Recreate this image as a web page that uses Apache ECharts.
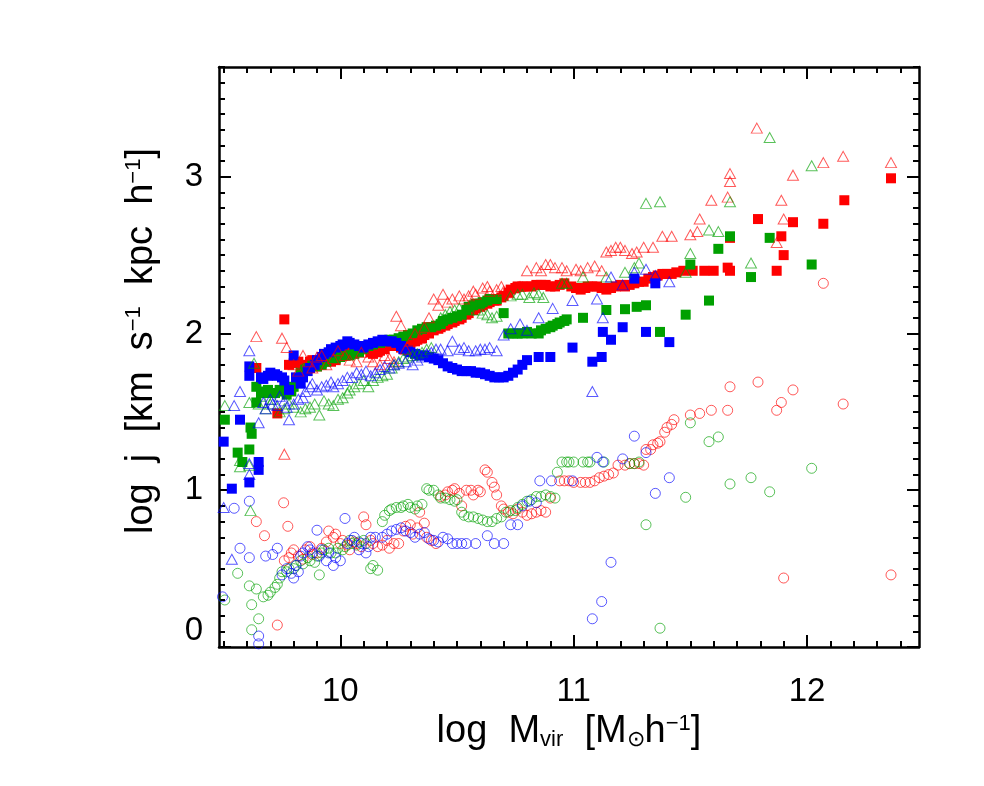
<!DOCTYPE html>
<html>
<head>
<meta charset="utf-8">
<script src="https://cdn.jsdelivr.net/npm/echarts@6/dist/echarts.min.js"></script>
<style>
  html, body { margin: 0; padding: 0; background: #fff; }
  #main { width: 984px; height: 786px; }
</style>
</head>
<body>
<div id="main"></div>
<script>
// tick labels
var xMajor = [10, 11, 12]
var yMajor = [0, 1, 2, 3]

// filled squares
var redSquares = [
  [9.64, 1.78], [9.73, 1.49], [9.76, 2.09], [9.78, 1.80], [9.80, 1.81], [9.82, 1.82], [9.84, 1.78],
  [9.85, 1.80], [9.87, 1.82], [9.88, 1.83], [9.90, 1.79], [9.92, 1.81], [9.93, 1.84], [9.95, 1.84],
  [9.96, 1.82], [9.98, 1.83], [9.99, 1.85], [10.01, 1.86], [10.02, 1.88], [10.04, 1.89], [10.05, 1.90],
  [10.07, 1.91], [10.08, 1.92], [10.10, 1.91], [10.11, 1.90], [10.13, 1.88], [10.14, 1.87], [10.16, 1.88],
  [10.17, 1.89], [10.19, 1.90], [10.20, 1.92], [10.22, 1.92], [10.23, 1.93], [10.25, 1.92], [10.26, 1.91],
  [10.28, 1.93], [10.30, 1.94], [10.32, 1.95], [10.33, 1.96], [10.35, 1.97], [10.36, 1.99], [10.38, 2.00],
  [10.40, 2.02], [10.42, 2.03], [10.43, 2.04], [10.45, 2.05], [10.46, 2.06], [10.48, 2.07], [10.49, 2.08],
  [10.51, 2.09], [10.52, 2.10], [10.54, 2.12], [10.55, 2.13], [10.57, 2.15], [10.58, 2.16], [10.60, 2.17],
  [10.61, 2.18], [10.63, 2.19], [10.64, 2.20], [10.66, 2.21], [10.67, 2.21], [10.69, 2.23], [10.70, 2.24],
  [10.72, 2.26], [10.73, 2.28], [10.75, 2.29], [10.76, 2.30], [10.78, 2.30], [10.80, 2.30], [10.82, 2.30],
  [10.84, 2.31], [10.86, 2.31], [10.88, 2.31], [10.90, 2.30], [10.92, 2.30], [10.94, 2.31], [10.96, 2.32],
  [10.99, 2.30], [11.01, 2.29], [11.03, 2.28], [11.05, 2.29], [11.06, 2.30], [11.08, 2.30], [11.10, 2.30],
  [11.12, 2.29], [11.14, 2.28], [11.16, 2.29], [11.18, 2.30], [11.20, 2.31], [11.22, 2.30], [11.24, 2.31],
  [11.26, 2.32], [11.28, 2.33], [11.30, 2.33], [11.32, 2.35], [11.34, 2.36], [11.36, 2.37], [11.38, 2.38],
  [11.40, 2.38], [11.42, 2.38], [11.44, 2.39], [11.47, 2.40], [11.51, 2.40], [11.56, 2.40], [11.60, 2.40],
  [11.66, 2.42], [11.67, 2.40], [11.67, 2.61], [11.79, 2.73], [11.87, 2.40], [11.89, 2.62], [11.90, 2.50],
  [11.94, 2.71], [12.07, 2.70], [12.16, 2.85], [12.36, 2.99]
]
var greenSquares = [
  [9.505, 1.45], [9.56, 1.24], [9.58, 1.18], [9.61, 1.26], [9.615, 1.40], [9.62, 1.36], [9.64, 1.66],
  [9.64, 1.56], [9.66, 1.62], [9.67, 1.63], [9.69, 1.64], [9.70, 1.62], [9.72, 1.62], [9.74, 1.64],
  [9.75, 1.63], [9.77, 1.61], [9.79, 1.63], [9.80, 1.66], [9.82, 1.70], [9.83, 1.75], [9.85, 1.77],
  [9.86, 1.78], [9.88, 1.80], [9.90, 1.79], [9.92, 1.80], [9.94, 1.82], [9.96, 1.84], [9.98, 1.84],
  [10.00, 1.85], [10.02, 1.86], [10.04, 1.86], [10.06, 1.87], [10.08, 1.88], [10.10, 1.90], [10.12, 1.92],
  [10.14, 1.93], [10.17, 1.94], [10.19, 1.95], [10.21, 1.96], [10.23, 1.96], [10.25, 1.97], [10.27, 1.98],
  [10.29, 1.99], [10.31, 2.00], [10.33, 2.02], [10.35, 2.03], [10.37, 2.04], [10.39, 2.04], [10.41, 2.05],
  [10.43, 2.06], [10.44, 2.08], [10.46, 2.09], [10.48, 2.10], [10.50, 2.11], [10.52, 2.12], [10.54, 2.15],
  [10.55, 2.17], [10.57, 2.18], [10.58, 2.19], [10.60, 2.19], [10.61, 2.20], [10.63, 2.21], [10.64, 2.22],
  [10.66, 2.22], [10.67, 2.22], [10.70, 2.13], [10.72, 2.00], [10.74, 2.00], [10.76, 2.00], [10.78, 2.00],
  [10.80, 2.01], [10.82, 2.00], [10.85, 2.00], [10.86, 2.02], [10.88, 2.03], [10.90, 2.04], [10.91, 2.05],
  [10.93, 2.06], [10.94, 2.07], [10.96, 2.08], [10.97, 2.09], [11.04, 2.10], [11.14, 2.15], [11.22, 2.155],
  [11.27, 2.17], [11.31, 2.18], [11.37, 2.01], [11.48, 2.12], [11.50, 2.44], [11.58, 2.21], [11.62, 2.54],
  [11.67, 2.62], [11.76, 2.36], [11.84, 2.61], [12.02, 2.44]
]
var blueSquares = [
  [9.50, 1.31], [9.535, 1.01], [9.57, 1.45], [9.61, 1.79], [9.61, 1.73], [9.61, 1.05], [9.65, 1.13],
  [9.65, 1.18], [9.66, 1.72], [9.67, 1.71], [9.69, 1.73], [9.70, 1.75], [9.72, 1.74], [9.73, 1.73],
  [9.75, 1.72], [9.76, 1.70], [9.78, 1.64], [9.80, 1.86], [9.81, 1.72], [9.83, 1.68], [9.84, 1.72],
  [9.86, 1.76], [9.87, 1.78], [9.89, 1.80], [9.90, 1.83], [9.92, 1.85], [9.93, 1.87], [9.95, 1.88],
  [9.96, 1.90], [9.98, 1.91], [10.00, 1.92], [10.01, 1.93], [10.03, 1.95], [10.04, 1.94], [10.06, 1.93],
  [10.08, 1.92], [10.10, 1.91], [10.12, 1.93], [10.14, 1.94], [10.16, 1.95], [10.18, 1.96], [10.20, 1.95],
  [10.22, 1.95], [10.24, 1.94], [10.26, 1.92], [10.27, 1.90], [10.29, 1.89], [10.30, 1.88], [10.32, 1.87],
  [10.34, 1.86], [10.36, 1.86], [10.38, 1.85], [10.40, 1.84], [10.42, 1.83], [10.44, 1.81], [10.46, 1.79],
  [10.48, 1.78], [10.50, 1.77], [10.52, 1.76], [10.54, 1.76], [10.56, 1.76], [10.58, 1.75], [10.60, 1.75],
  [10.62, 1.74], [10.64, 1.73], [10.66, 1.72], [10.68, 1.72], [10.70, 1.72], [10.72, 1.73], [10.74, 1.75],
  [10.76, 1.77], [10.78, 1.80], [10.80, 1.83], [10.85, 1.85], [10.90, 1.85], [10.995, 1.91], [11.08, 1.82],
  [11.12, 1.85], [11.125, 2.01], [11.16, 1.96], [11.21, 2.04], [11.26, 2.35], [11.31, 2.01], [11.35, 2.32],
  [11.41, 1.945]
]

// open triangles
var redTriangles = [
  [9.64, 1.98], [9.75, 1.97], [9.77, 1.91], [9.76, 1.23], [9.80, 1.80], [9.82, 1.76], [9.84, 1.86],
  [9.86, 1.82], [9.88, 1.78], [9.90, 1.85], [9.92, 1.86], [9.94, 1.80], [9.97, 1.84], [9.99, 1.89],
  [10.02, 1.86], [10.04, 1.83], [10.07, 1.82], [10.09, 1.88], [10.12, 1.85], [10.14, 1.82], [10.17, 1.80],
  [10.19, 1.86], [10.21, 1.84], [10.23, 1.82], [10.24, 2.11], [10.26, 2.05], [10.28, 1.90], [10.30, 1.95],
  [10.32, 2.00], [10.34, 1.97], [10.36, 2.04], [10.38, 2.10], [10.40, 2.22], [10.42, 2.18], [10.44, 2.25],
  [10.46, 2.20], [10.48, 2.22], [10.51, 2.24], [10.53, 2.22], [10.55, 2.24], [10.57, 2.27], [10.58, 2.25],
  [10.61, 2.29], [10.63, 2.30], [10.64, 2.27], [10.67, 2.28], [10.69, 2.30], [10.70, 2.27], [10.72, 2.26],
  [10.74, 2.29], [10.77, 2.30], [10.80, 2.40], [10.84, 2.42], [10.86, 2.40], [10.88, 2.44], [10.90, 2.44],
  [10.92, 2.42], [10.95, 2.42], [10.97, 2.40], [11.01, 2.41], [11.03, 2.40], [11.06, 2.42], [11.09, 2.43],
  [11.12, 2.40], [11.14, 2.52], [11.16, 2.53], [11.18, 2.55], [11.20, 2.55], [11.22, 2.53], [11.25, 2.51],
  [11.27, 2.52], [11.30, 2.55], [11.34, 2.55], [11.38, 2.62], [11.42, 2.62], [11.50, 2.63], [11.53, 2.65],
  [11.54, 2.73], [11.59, 2.85], [11.66, 2.87], [11.67, 2.97], [11.67, 3.02], [11.785, 3.31], [11.87, 2.58],
  [11.89, 2.85], [11.90, 2.73], [11.94, 3.01], [12.07, 3.09], [12.155, 3.13], [12.36, 3.09]
]
var greenTriangles = [
  [9.505, 1.54], [9.57, 1.15], [9.57, 1.19], [9.61, 1.16], [9.615, 0.87], [9.61, 1.56], [9.63, 1.81],
  [9.65, 1.55], [9.66, 1.60], [9.68, 1.52], [9.70, 1.55], [9.71, 1.58], [9.74, 1.50], [9.76, 1.52],
  [9.78, 1.55], [9.80, 1.53], [9.83, 1.50], [9.85, 1.52], [9.87, 1.53], [9.89, 1.55], [9.91, 1.48],
  [9.93, 1.57], [9.95, 1.55], [9.97, 1.54], [9.99, 1.58], [10.01, 1.59], [10.03, 1.62], [10.04, 1.64],
  [10.06, 1.66], [10.08, 1.68], [10.10, 1.70], [10.12, 1.66], [10.14, 1.70], [10.16, 1.72], [10.18, 1.73],
  [10.20, 1.74], [10.22, 1.78], [10.23, 1.80], [10.25, 1.82], [10.27, 1.84], [10.29, 1.85], [10.31, 1.86],
  [10.33, 1.87], [10.35, 1.88], [10.37, 1.90], [10.39, 1.91], [10.43, 2.10], [10.45, 2.12], [10.47, 2.14],
  [10.49, 2.15], [10.51, 2.16], [10.55, 2.15], [10.59, 2.15], [10.61, 2.13], [10.63, 2.12], [10.65, 2.10],
  [10.67, 2.11], [10.73, 2.24], [10.76, 2.25], [10.78, 2.25], [10.81, 2.23], [10.83, 2.26], [10.85, 2.25],
  [10.87, 2.23], [10.95, 2.32], [10.97, 2.32], [11.04, 2.36], [11.14, 2.36], [11.22, 2.39], [11.26, 2.42],
  [11.28, 2.45], [11.31, 2.83], [11.37, 2.84], [11.48, 2.39], [11.50, 2.51], [11.58, 2.66], [11.62, 2.65],
  [11.67, 2.84], [11.76, 2.45], [11.84, 3.25], [12.02, 3.07]
]
var blueTriangles = [
  [9.50, 0.89], [9.535, 0.56], [9.545, 1.54], [9.57, 1.63], [9.61, 1.89], [9.61, 1.17], [9.61, 1.10],
  [9.65, 1.43], [9.67, 1.56], [9.68, 1.52], [9.70, 1.58], [9.71, 1.55], [9.73, 1.54], [9.74, 1.60],
  [9.76, 1.57], [9.77, 1.53], [9.78, 1.45], [9.80, 1.55], [9.82, 1.58], [9.84, 1.59], [9.85, 1.63],
  [9.87, 1.66], [9.88, 1.68], [9.90, 1.64], [9.92, 1.66], [9.94, 1.67], [9.96, 1.69], [9.97, 1.66],
  [9.99, 1.68], [10.01, 1.70], [10.03, 1.72], [10.05, 1.72], [10.07, 1.75], [10.09, 1.74], [10.11, 1.76],
  [10.13, 1.73], [10.15, 1.75], [10.17, 1.77], [10.19, 1.79], [10.21, 1.78], [10.23, 1.80], [10.25, 1.81],
  [10.28, 1.82], [10.31, 1.80], [10.33, 1.83], [10.35, 1.85], [10.37, 1.87], [10.39, 1.88], [10.41, 1.90],
  [10.43, 1.90], [10.46, 1.89], [10.48, 1.95], [10.51, 1.90], [10.53, 1.91], [10.55, 1.89], [10.58, 1.89],
  [10.60, 1.90], [10.62, 1.90], [10.64, 1.91], [10.67, 1.89], [10.70, 1.99], [10.73, 2.03], [10.77, 2.06],
  [10.80, 2.02], [10.85, 2.10], [10.91, 2.16], [10.995, 2.21], [11.08, 1.63], [11.10, 2.22], [11.125, 2.10],
  [11.16, 2.36], [11.21, 2.31], [11.26, 2.39], [11.31, 2.41], [11.35, 2.37], [11.41, 2.33]
]

// open circles
var redCircles = [
  [9.64, 0.80], [9.675, 0.71], [9.73, 0.14], [9.757, 0.92], [9.775, 0.77], [9.76, 0.55], [9.78, 0.57],
  [9.79, 0.60], [9.80, 0.62], [9.82, 0.58], [9.84, 0.56], [9.85, 0.62], [9.87, 0.64], [9.88, 0.59],
  [9.90, 0.60], [9.92, 0.63], [9.94, 0.67], [9.95, 0.74], [9.97, 0.70], [9.98, 0.72], [10.00, 0.66],
  [10.01, 0.68], [10.03, 0.65], [10.04, 0.62], [10.06, 0.67], [10.07, 0.66], [10.09, 0.64], [10.10, 0.83],
  [10.11, 0.78], [10.13, 0.68], [10.14, 0.66], [10.16, 0.64], [10.18, 0.65], [10.20, 0.68], [10.21, 0.63],
  [10.23, 0.66], [10.25, 0.66], [10.27, 0.74], [10.28, 0.77], [10.30, 0.78], [10.31, 0.72], [10.33, 0.76],
  [10.34, 0.86], [10.36, 0.79], [10.37, 0.70], [10.39, 0.68], [10.41, 0.66], [10.43, 0.96], [10.45, 0.97],
  [10.46, 0.99], [10.48, 1.00], [10.49, 1.01], [10.51, 0.98], [10.52, 0.90], [10.54, 1.00], [10.56, 1.00],
  [10.57, 0.97], [10.59, 1.00], [10.60, 0.99], [10.62, 1.13], [10.63, 1.115], [10.65, 1.05], [10.66, 1.02],
  [10.67, 0.97], [10.69, 0.90], [10.70, 0.88], [10.72, 0.86], [10.74, 0.85], [10.76, 0.88], [10.78, 0.86],
  [10.80, 0.84], [10.82, 0.85], [10.84, 0.86], [10.86, 0.87], [10.88, 0.86], [10.90, 0.95], [10.94, 1.06],
  [10.96, 1.06], [10.98, 1.06], [11.00, 1.05], [11.03, 1.05], [11.05, 1.05], [11.07, 1.05], [11.09, 1.06],
  [11.11, 1.08], [11.13, 1.09], [11.15, 1.10], [11.17, 1.11], [11.19, 1.16], [11.22, 1.16], [11.24, 1.17],
  [11.26, 1.17], [11.28, 1.17], [11.30, 1.16], [11.31, 1.26], [11.33, 1.26], [11.34, 1.29], [11.36, 1.30],
  [11.37, 1.31], [11.39, 1.37], [11.40, 1.40], [11.42, 1.42], [11.43, 1.45], [11.50, 1.48], [11.54, 1.49],
  [11.59, 1.51], [11.66, 1.51], [11.67, 1.66], [11.79, 1.69], [11.87, 1.51], [11.89, 1.56], [11.90, 0.44],
  [11.94, 1.64], [12.07, 2.32], [12.155, 1.55], [12.36, 0.46]
]
var greenCircles = [
  [9.505, 0.30], [9.56, 0.47], [9.61, 0.39], [9.62, 0.27], [9.62, 0.11], [9.64, 0.37], [9.65, 0.18],
  [9.67, 0.32], [9.69, 0.33], [9.70, 0.35], [9.72, 0.38], [9.73, 0.40], [9.74, 0.44], [9.75, 0.48],
  [9.77, 0.48], [9.78, 0.50], [9.80, 0.50], [9.81, 0.52], [9.83, 0.55], [9.84, 0.53], [9.86, 0.57],
  [9.87, 0.55], [9.89, 0.54], [9.90, 0.58], [9.91, 0.46], [9.92, 0.60], [9.93, 0.62], [9.95, 0.63],
  [9.96, 0.60], [9.98, 0.60], [9.99, 0.63], [10.01, 0.62], [10.02, 0.64], [10.04, 0.68], [10.05, 0.66],
  [10.07, 0.65], [10.08, 0.67], [10.10, 0.68], [10.11, 0.66], [10.13, 0.50], [10.14, 0.52], [10.16, 0.49],
  [10.18, 0.80], [10.19, 0.84], [10.21, 0.87], [10.22, 0.88], [10.24, 0.89], [10.26, 0.89], [10.27, 0.90],
  [10.29, 0.91], [10.30, 0.89], [10.32, 0.88], [10.33, 0.90], [10.35, 0.91], [10.37, 1.01], [10.38, 1.00],
  [10.40, 1.00], [10.42, 0.97], [10.43, 0.95], [10.45, 0.95], [10.47, 0.94], [10.49, 0.93], [10.50, 0.94],
  [10.52, 0.86], [10.53, 0.84], [10.55, 0.83], [10.57, 0.83], [10.59, 0.82], [10.61, 0.81], [10.63, 0.80],
  [10.65, 0.80], [10.67, 0.82], [10.69, 0.83], [10.71, 0.86], [10.73, 0.87], [10.75, 0.87], [10.76, 0.89],
  [10.78, 0.91], [10.80, 0.93], [10.82, 0.94], [10.84, 0.96], [10.86, 0.96], [10.88, 0.97], [10.90, 0.96],
  [10.92, 0.95], [10.93, 1.115], [10.95, 1.18], [10.97, 1.18], [10.98, 1.18], [11.00, 1.18], [11.04, 1.18],
  [11.06, 1.18], [11.07, 1.18], [11.13, 1.18], [11.24, 1.17], [11.26, 1.17], [11.28, 1.18], [11.31, 0.78],
  [11.37, 0.12], [11.48, 0.955], [11.50, 1.43], [11.58, 1.31], [11.62, 1.34], [11.67, 1.04], [11.76, 1.08],
  [11.84, 0.99], [12.02, 1.14]
]
var blueCircles = [
  [9.495, 0.32], [9.545, 0.885], [9.57, 0.63], [9.61, 0.93], [9.61, 0.57], [9.65, 0.07], [9.65, 0.02],
  [9.68, 0.58], [9.71, 0.59], [9.73, 0.63], [9.75, 0.46], [9.77, 0.50], [9.79, 0.47], [9.80, 0.44],
  [9.81, 0.52], [9.82, 0.48], [9.83, 0.58], [9.84, 0.60], [9.86, 0.64], [9.87, 0.62], [9.88, 0.60],
  [9.90, 0.745], [9.91, 0.58], [9.92, 0.62], [9.94, 0.55], [9.95, 0.60], [9.97, 0.52], [9.98, 0.57],
  [10.00, 0.55], [10.02, 0.82], [10.03, 0.66], [10.05, 0.68], [10.06, 0.70], [10.08, 0.62], [10.09, 0.66],
  [10.11, 0.60], [10.12, 0.64], [10.13, 0.70], [10.15, 0.70], [10.18, 0.70], [10.20, 0.72], [10.22, 0.74],
  [10.24, 0.75], [10.26, 0.76], [10.28, 0.74], [10.30, 0.73], [10.32, 0.70], [10.34, 0.72], [10.36, 0.73],
  [10.38, 0.69], [10.40, 0.68], [10.42, 0.67], [10.44, 0.70], [10.46, 0.69], [10.48, 0.66], [10.50, 0.66],
  [10.52, 0.66], [10.54, 0.66], [10.58, 0.66], [10.63, 0.71], [10.66, 0.66], [10.70, 0.66], [10.73, 0.78],
  [10.76, 0.78], [10.78, 0.90], [10.81, 0.93], [10.84, 0.92], [10.855, 1.06], [10.905, 1.06], [10.995, 1.06],
  [11.08, 0.18], [11.10, 1.21], [11.12, 0.29], [11.125, 1.18], [11.16, 0.54], [11.21, 1.20], [11.26, 1.345],
  [11.31, 1.24], [11.35, 0.98], [11.41, 1.08]
]

var X_MIN = 9.48, X_MAX = 12.48
var Y_MIN = 0, Y_MAX = 3.7
var FONT = 'Liberation Sans'

function minorTicks (lo, hi, majors) {
  var out = []
  for (var i = Math.ceil(lo * 10); i <= Math.floor(hi * 10); i++) {
    var v = Math.round(i) / 10
    if (majors.indexOf(v) < 0) out.push(v)
  }
  return out
}
var xMinor = minorTicks(X_MIN, X_MAX, xMajor)
var yMinor = minorTicks(Y_MIN, Y_MAX, yMajor)

function axis (pos, min, max, ticks, len, showLine, labels) {
  return {
    type: 'value',
    position: pos,
    min: min,
    max: max,
    axisLine: { show: showLine, onZero: false, lineStyle: { color: '#000', width: 2.5 } },
    axisTick: { show: true, inside: true, length: len, customValues: ticks, lineStyle: { color: '#000', width: 2 } },
    axisLabel: labels ? {
      show: true, customValues: labels, color: '#000', fontFamily: FONT, fontSize: 33,
      margin: pos === 'bottom' ? 28 : 16,
      verticalAlignMinLabel: pos === 'left' ? 'bottom' : null
    } : { show: false },
    splitLine: { show: false }
  }
}

var rich = {
  n: { fontFamily: FONT, fontSize: 38, color: '#000' },
  sup: { fontFamily: FONT, fontSize: 22, color: '#000', verticalAlign: 'top' },
  sub: { fontFamily: FONT, fontSize: 22, color: '#000', verticalAlign: 'bottom' }
}

var xAxes = [
  axis('bottom', X_MIN, X_MAX, xMajor, 12, true, xMajor),
  axis('bottom', X_MIN, X_MAX, xMinor, 6, false, null),
  axis('top', X_MIN, X_MAX, xMajor, 12, true, null),
  axis('top', X_MIN, X_MAX, xMinor, 6, false, null)
]
xAxes[0].name = '{n|log  M}{sub|vir}{n|  [M}{sub|⊙}{n|h}{sup|−1}{n|]}'
xAxes[0].nameLocation = 'middle'
xAxes[0].nameGap = 66
xAxes[0].nameTextStyle = { rich: rich }

var yAxes = [
  axis('left', Y_MIN, Y_MAX, yMajor, 12, true, yMajor),
  axis('left', Y_MIN, Y_MAX, yMinor, 6, false, null),
  axis('right', Y_MIN, Y_MAX, yMajor, 12, true, null),
  axis('right', Y_MIN, Y_MAX, yMinor, 6, false, null)
]
yAxes[0].name = '{n|log  j  [km  s}{sup|−1}{n|  kpc  h}{sup|−1}{n|]}'
yAxes[0].nameLocation = 'middle'
yAxes[0].nameGap = 58
yAxes[0].nameTextStyle = { rich: rich, padding: [0, 0, 0, 32] }

function filled (data, color) {
  return {
    type: 'scatter', data: data, symbol: 'rect', symbolSize: 10,
    itemStyle: { color: color, opacity: 1 }, silent: true
  }
}
function open (data, symbol, color, size) {
  return {
    type: 'scatter', data: data, symbol: symbol, symbolSize: size,
    itemStyle: { color: 'rgba(0,0,0,0)', borderColor: color, borderWidth: 1, opacity: 1 }, silent: true
  }
}

var chart = echarts.init(document.getElementById('main'), null, { renderer: 'canvas' })
chart.setOption({
  animation: false,
  backgroundColor: '#fff',
  grid: { left: 219, right: 65, top: 67, bottom: 139 },
  xAxis: xAxes,
  yAxis: yAxes,
  series: [
    open(redCircles, 'circle', 'rgba(255,0,0,0.65)', 10),
    open(greenCircles, 'circle', 'rgba(0,160,0,0.65)', 10),
    open(blueCircles, 'circle', 'rgba(0,0,255,0.65)', 10),
    filled(redSquares, '#ff0000'),
    filled(greenSquares, '#00a000'),
    filled(blueSquares, '#0000ff'),
    open(redTriangles, 'triangle', 'rgba(255,0,0,0.65)', [11, 10]),
    open(greenTriangles, 'triangle', 'rgba(0,160,0,0.65)', [11, 10]),
    open(blueTriangles, 'triangle', 'rgba(0,0,255,0.65)', [11, 10])
  ]
})
</script>
</body>
</html>
